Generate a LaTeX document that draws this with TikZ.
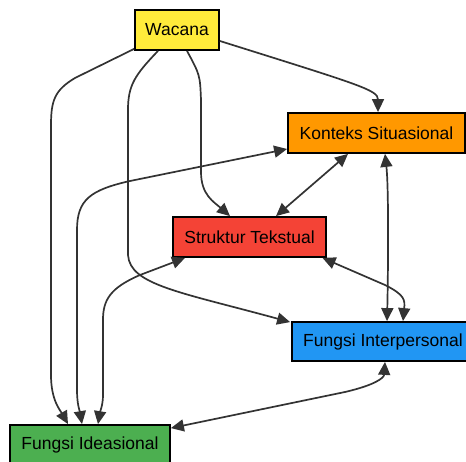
\documentclass[tikz,border=0pt]{standalone}
\usepackage{fontspec}
\setmainfont{Liberation Sans}
\usetikzlibrary{arrows.meta,calc}
\definecolor{cyel}{HTML}{FFEB3B}
\definecolor{cora}{HTML}{FF9800}
\definecolor{cred}{HTML}{F44336}
\definecolor{cblu}{HTML}{2196F3}
\definecolor{cgrn}{HTML}{4CAF50}
\definecolor{cedge}{HTML}{333333}
\begin{document}
\begin{tikzpicture}[x=1pt,y=-1pt,
  box/.style={draw=black,line width=1.8pt,inner sep=0pt,minimum height=40pt,
    font=\fontsize{17.5}{21}\selectfont,text=black},
  conn/.style={draw=cedge,line width=1.7pt,-{Triangle[length=13pt,width=12pt]}},
  bconn/.style={draw=cedge,line width=1.7pt,{Triangle[length=13pt,width=12pt]}-{Triangle[length=13pt,width=12pt]}}]
\useasboundingbox (0,0) rectangle (466,462);
\node[box,fill=cyel,minimum width=84pt] (wac) at (177,30) {Wacana};
\node[box,fill=cora,minimum width=177pt] (kon) at (376.5,133) {Konteks Situasional};
\node[box,fill=cred,minimum width=153pt] (str) at (249.5,237) {Struktur Tekstual};
\node[box,fill=cblu,minimum width=182pt,minimum height=39pt] (int) at (383,341.5) {Fungsi Interpersonal};
\node[box,fill=cgrn,minimum width=160pt] (ide) at (90,445) {Fungsi Ideasional};
% Wacana -> Konteks
\draw[conn] ($(wac.east)+(0,11)$) .. controls (360,85) and (378,90) .. ($(kon.north)+(1.5,0)$);
% Wacana -> Struktur
\draw[conn] ($(wac.south)+(10,0)$) .. controls (200,75) .. (201,100) -- (201,172)
  .. controls (201,195) and (214,202) .. ($(str.north)+(-19.5,0)$);
% Wacana -> Interpersonal
\draw[conn] ($(wac.south)+(-19,0)$) .. controls (135,75) and (128,85) .. (128,110) -- (128,255)
  .. controls (130,285) and (180,292) .. ($(int.north west)+(-1,1)$);
% Wacana -> Ideasional
\draw[conn] ($(wac.south west)+(0,-2)$) -- (75,78) .. controls (55,90) and (51,100) .. (51,125)
  -- (51,375) .. controls (51,400) and (60,410) .. ($(ide.north)+(-22,0)$);
% Konteks <-> Ideasional
\draw[bconn] ($(kon.west)+(0,16)$) -- (130,181) .. controls (90,190) and (77,200) .. (77,230)
  -- (77,390) .. controls (77,405) and (80,412) .. ($(ide.north)+(-8,0)$);
% Konteks <-> Struktur
\draw[bconn] ($(kon.south)+(-28.5,0)$) -- ($(str.north)+(26.5,0)$);
% Konteks <-> Interpersonal
\draw[bconn] ($(kon.south)+(8.5,0)$) .. controls (389,190) and (388,280) .. ($(int.north)+(4,0)$);
% Struktur <-> Interpersonal
\draw[bconn] ($(str.south)+(73,0)$) -- (385,285) .. controls (405,295) and (405,300) .. ($(int.north)+(20,0)$);
% Struktur <-> Ideasional
\draw[bconn] ($(str.south)+(-64.5,0)$) -- (140,275) .. controls (110,288) and (103,300) .. (103,320)
  -- (103,395) .. controls (103,405) and (100,412) .. ($(ide.north)+(8,0)$);
% Interpersonal <-> Ideasional
\draw[bconn] ($(int.south)+(2,0)$) .. controls (384,378) and (375,385) .. (345,392) -- ($(ide.north east)+(0,4)$);
\end{tikzpicture}
\end{document}
